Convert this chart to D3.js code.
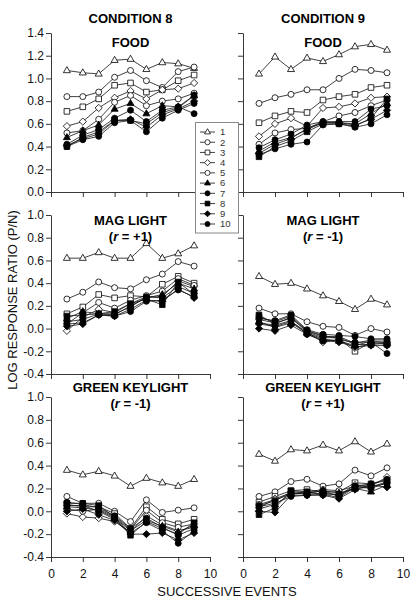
<!DOCTYPE html>
<html><head><meta charset="utf-8">
<script src="https://cdn.jsdelivr.net/npm/d3@7"></script>
<style>body{margin:0;background:#fff}svg{display:block}</style>
</head><body><svg id="c" width="411" height="599"></svg>
<script>
// ---------- DATA ----------
const events = [1,2,3,4,5,6,7,8,9];
const seriesLabels = ["1","2","3","4","5","6","7","8","9","10"];
const seriesShapes = ["triangle","circle","square","diamond","circle","triangle","circle","square","diamond","circle"];
const seriesFilled = [false,false,false,false,false,true,true,true,true,true];
const xTicks = [0,2,4,6,8,10];
const xTickLabels = ["0","2","4","6","8","10"];
const yTicksTop = [0,0.2,0.4,0.6,0.8,1.0,1.2,1.4];
const yTickLabelsTop = ["0.0","0.2","0.4","0.6","0.8","1.0","1.2","1.4"];
const yTicksLow = [-0.4,-0.2,0,0.2,0.4,0.6,0.8,1.0];
const yTickLabelsLow = ["-0.4","-0.2","0.0","0.2","0.4","0.6","0.8","1.0"];
const conditionTitles = ["CONDITION 8","CONDITION 9"];

// Condition 8, FOOD
const c8Food = [
  [1.07,1.05,1.04,1.16,1.17,1.08,1.14,1.13,1.09],
  [0.84,0.84,0.88,1.01,1.07,0.98,0.92,1.06,1.10],
  [0.71,0.75,0.82,0.94,0.96,0.88,0.90,0.98,1.03],
  [0.58,0.62,0.74,0.83,0.89,0.82,0.90,0.91,0.96],
  [0.52,0.54,0.64,0.79,0.85,0.76,0.80,0.82,0.87],
  [0.48,0.54,0.59,0.73,0.78,0.69,0.76,0.75,0.85],
  [0.42,0.50,0.55,0.65,0.72,0.62,0.72,0.75,0.69],
  [0.40,0.48,0.53,0.63,0.63,0.60,0.70,0.74,0.85],
  [0.41,0.47,0.51,0.63,0.64,0.57,0.68,0.73,0.80],
  [0.40,0.46,0.49,0.61,0.63,0.53,0.65,0.72,0.78]
];
// Condition 9, FOOD
const c9Food = [
  [1.04,1.19,1.08,1.18,1.15,1.21,1.28,1.30,1.25],
  [0.78,0.83,0.86,0.90,0.90,1.00,1.08,1.07,1.05],
  [0.61,0.67,0.71,0.70,0.81,0.84,0.86,0.92,0.94],
  [0.49,0.60,0.65,0.58,0.74,0.75,0.78,0.83,0.84],
  [0.42,0.52,0.55,0.56,0.62,0.67,0.70,0.76,0.81],
  [0.36,0.44,0.48,0.55,0.61,0.61,0.60,0.69,0.78],
  [0.39,0.46,0.51,0.59,0.62,0.62,0.62,0.73,0.76],
  [0.31,0.40,0.45,0.53,0.60,0.60,0.58,0.65,0.82],
  [0.34,0.42,0.47,0.56,0.61,0.61,0.59,0.64,0.72],
  [0.33,0.38,0.42,0.44,0.59,0.60,0.57,0.60,0.68]
];
// Condition 8, MAG LIGHT (r = +1)
const c8Mag = [
  [0.62,0.62,0.67,0.62,0.62,0.75,0.62,0.66,0.73],
  [0.26,0.32,0.41,0.36,0.35,0.43,0.48,0.59,0.55],
  [0.13,0.19,0.30,0.27,0.29,0.28,0.39,0.46,0.40],
  [-0.02,0.10,0.17,0.14,0.22,0.28,0.28,0.42,0.37],
  [0.04,0.14,0.23,0.18,0.25,0.29,0.33,0.44,0.38],
  [0.09,0.15,0.13,0.12,0.20,0.27,0.30,0.40,0.35],
  [0.06,0.08,0.13,0.13,0.19,0.28,0.27,0.37,0.31],
  [0.11,0.12,0.13,0.15,0.22,0.26,0.21,0.41,0.30],
  [0.02,0.04,0.12,0.11,0.17,0.25,0.24,0.35,0.27],
  [0.04,0.05,0.12,0.11,0.15,0.24,0.25,0.34,0.28]
];
// Condition 9, MAG LIGHT (r = -1)
const c9Mag = [
  [0.46,0.39,0.40,0.35,0.29,0.24,0.17,0.26,0.21],
  [0.18,0.13,0.13,0.06,0.02,0.01,-0.06,0.00,-0.03],
  [0.10,0.06,0.11,-0.02,-0.06,-0.09,-0.20,-0.12,-0.14],
  [0.04,0.02,0.06,-0.03,-0.12,-0.10,-0.17,-0.13,-0.12],
  [0.08,0.05,0.09,-0.02,-0.07,-0.07,-0.13,-0.10,-0.10],
  [0.06,0.01,0.05,-0.04,-0.09,-0.11,-0.15,-0.11,-0.12],
  [0.09,0.07,0.12,-0.01,-0.05,-0.06,-0.07,-0.09,-0.09],
  [0.12,0.04,0.10,-0.03,-0.08,-0.08,-0.14,-0.14,-0.13],
  [0.00,-0.02,0.03,-0.05,-0.10,-0.12,-0.16,-0.15,-0.15],
  [0.05,0.03,0.07,-0.05,-0.11,-0.10,-0.12,-0.12,-0.22]
];
// Condition 8, GREEN KEYLIGHT (r = -1)
const c8Green = [
  [0.36,0.32,0.35,0.31,0.22,0.29,0.25,0.22,0.28],
  [0.13,0.07,0.07,0.00,-0.09,0.10,-0.01,0.01,0.03],
  [0.06,0.04,0.04,-0.02,-0.15,0.04,-0.07,-0.11,-0.07],
  [-0.02,-0.05,-0.06,-0.09,-0.18,-0.04,-0.12,-0.17,-0.14],
  [0.02,0.00,0.02,-0.05,-0.16,0.01,-0.10,-0.14,-0.11],
  [0.04,0.03,0.01,-0.06,-0.17,-0.08,-0.13,-0.18,-0.12],
  [0.08,0.06,0.03,-0.04,-0.15,-0.06,-0.14,-0.21,-0.15],
  [0.07,0.07,0.05,-0.05,-0.21,-0.09,-0.15,-0.20,-0.10],
  [0.00,0.02,-0.03,-0.08,-0.20,-0.20,-0.19,-0.25,-0.19],
  [0.05,0.05,0.00,-0.07,-0.19,-0.10,-0.17,-0.28,-0.17]
];
// Condition 9, GREEN KEYLIGHT (r = +1)
const c9Green = [
  [0.50,0.44,0.54,0.53,0.58,0.53,0.61,0.52,0.59],
  [0.13,0.17,0.26,0.28,0.22,0.24,0.36,0.31,0.38],
  [0.08,0.13,0.18,0.19,0.17,0.17,0.25,0.24,0.27],
  [0.03,0.11,0.16,0.15,0.16,0.14,0.23,0.22,0.30],
  [0.06,0.10,0.15,0.17,0.19,0.18,0.22,0.20,0.25],
  [0.02,0.06,0.15,0.16,0.18,0.16,0.20,0.17,0.23],
  [0.05,0.09,0.17,0.16,0.18,0.13,0.22,0.24,0.28],
  [-0.03,0.03,0.18,0.17,0.15,0.15,0.20,0.21,0.26],
  [0.00,-0.01,0.14,0.14,0.14,0.11,0.19,0.23,0.21],
  [0.04,0.07,0.13,0.14,0.15,0.12,0.21,0.22,0.24]
];

// ---------- LAYOUT ----------
const FONT = "'Liberation Sans', Arial, Helvetica, sans-serif";
const svg = d3.select("#c").style("font-family", FONT);
const colX = [[51,210],[243,403]];
const rowY = [[192,33],[374,215],[557,397]];

const panels = [
  {data:c8Food,  col:0,row:0, dom:[0,1.4],  ticks:yTicksTop, labels:yTickLabelsTop, title:["FOOD"], ty:[47]},
  {data:c9Food,  col:1,row:0, dom:[0,1.4],  ticks:yTicksTop, labels:yTickLabelsTop, title:["FOOD"], ty:[47]},
  {data:c8Mag,   col:0,row:1, dom:[-0.4,1.0], ticks:yTicksLow, labels:yTickLabelsLow, title:["MAG LIGHT","+1"], ty:[225,240.5]},
  {data:c9Mag,   col:1,row:1, dom:[-0.4,1.0], ticks:yTicksLow, labels:yTickLabelsLow, title:["MAG LIGHT","-1"], ty:[225,240.5]},
  {data:c8Green, col:0,row:2, dom:[-0.4,1.0], ticks:yTicksLow, labels:yTickLabelsLow, title:["GREEN KEYLIGHT","-1"], ty:[392,407.5]},
  {data:c9Green, col:1,row:2, dom:[-0.4,1.0], ticks:yTicksLow, labels:yTickLabelsLow, title:["GREEN KEYLIGHT","+1"], ty:[392,407.5]}
];

function shapePath(shape){
  switch(shape){
    case "circle": return "M3,0A3,3 0 1,1 -3,0A3,3 0 1,1 3,0Z";
    case "triangle": return "M0,-3.9L3.5,2.2L-3.5,2.2Z";
    case "square": return "M-2.8,-2.8L2.8,-2.8L2.8,2.8L-2.8,2.8Z";
    case "diamond": return "M0,-3.6L3.6,0L0,3.6L-3.6,0Z";
  }
}

const line = d3.line();

panels.forEach(p => {
  const x = d3.scaleLinear().domain([0,10]).range(colX[p.col]);
  const y = d3.scaleLinear().domain(p.dom).range(rowY[p.row]);
  const g = svg.append("g");

  const ya = d3.axisLeft(y).tickValues(p.ticks).tickSize(5).tickSizeOuter(0).tickPadding(2)
    .tickFormat((d,i) => p.col===0 ? p.labels[i] : "");
  const yg = g.append("g").attr("transform",`translate(${colX[p.col][0]},0)`).call(ya);
  const xa = d3.axisBottom(x).tickValues(xTicks).tickSize(5).tickSizeOuter(0).tickPadding(7)
    .tickFormat((d,i) => p.row===2 ? xTickLabels[i] : "");
  const xg = g.append("g").attr("transform",`translate(0,${rowY[p.row][0]})`).call(xa);
  [yg,xg].forEach(a => {
    a.selectAll("path,line").attr("stroke","#222").attr("stroke-width",0.9);
    a.selectAll("text").attr("font-size",12).attr("fill","#111").attr("font-family",FONT);
  });

  p.data.forEach((vals,si) => {
    const pts = events.map((e,i)=>[x(e), y(vals[i])]);
    g.append("path").attr("d", line(pts)).attr("fill","none").attr("stroke","#111").attr("stroke-width",0.8);
  });
  p.data.forEach((vals,si) => {
    g.append("g").selectAll("path").data(events).join("path")
      .attr("transform",(e,i)=>`translate(${x(e)},${y(vals[i])})`)
      .attr("d", shapePath(seriesShapes[si]))
      .attr("fill", seriesFilled[si] ? "#000" : "#fff")
      .attr("stroke","#000").attr("stroke-width",0.8);
  });

  const cx = (colX[p.col][0]+colX[p.col][1])/2;
  g.append("text").attr("x",cx).attr("y",p.ty[0]).attr("text-anchor","middle")
    .attr("font-size",13).attr("font-weight","bold").text(p.title[0]);
  if (p.title.length>1){
    const t = g.append("text").attr("x",cx).attr("y",p.ty[1]).attr("text-anchor","middle")
      .attr("font-size",13).attr("font-weight","bold");
    t.append("tspan").text("(");
    t.append("tspan").attr("font-style","italic").text("r");
    t.append("tspan").text(" = " + p.title[1] + ")");
  }
});

conditionTitles.forEach((t,i)=>{
  svg.append("text").attr("x",(colX[i][0]+colX[i][1])/2).attr("y",23)
    .attr("text-anchor","middle").attr("font-size",13).attr("font-weight","bold").text(t);
});

svg.append("text").attr("transform","translate(17,300) rotate(-90)").attr("text-anchor","middle")
  .attr("font-size",13).attr("fill","#111").text("LOG RESPONSE RATIO (P/N)");
svg.append("text").attr("x",227).attr("y",596).attr("text-anchor","middle")
  .attr("font-size",13).attr("fill","#111").text("SUCCESSIVE EVENTS");

const lg = svg.append("g");
lg.append("rect").attr("x",195.5).attr("y",122.5).attr("width",43).attr("height",110.5)
  .attr("fill","#fff").attr("stroke","#888").attr("stroke-width",1);
const ly = d3.scaleLinear().domain([0,9]).range([132,224]);
seriesLabels.forEach((lab,i)=>{
  const yy = ly(i);
  lg.append("line").attr("x1",200).attr("x2",215).attr("y1",yy).attr("y2",yy).attr("stroke","#111").attr("stroke-width",0.8);
  lg.append("path").attr("transform",`translate(207.5,${yy}) scale(0.85)`).attr("d",shapePath(seriesShapes[i]))
    .attr("fill", seriesFilled[i] ? "#000" : "#fff").attr("stroke","#000").attr("stroke-width",0.9);
  lg.append("text").attr("x",220).attr("y",yy).attr("dy","0.35em").attr("font-size",9.5).attr("fill","#333").text(lab);
});
</script>
</body></html>
